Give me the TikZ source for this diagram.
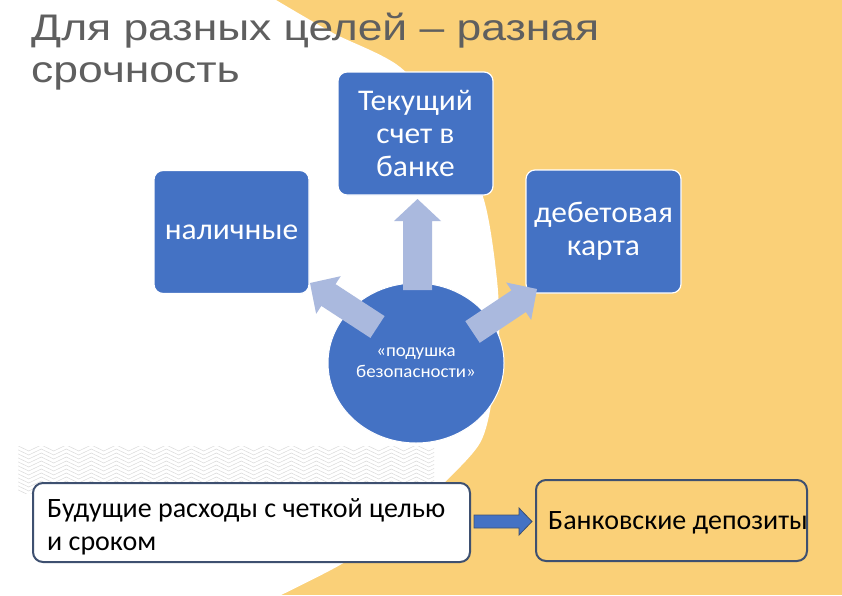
\documentclass[tikz,border=0pt]{standalone}
\usepackage{fontspec}
\usetikzlibrary{calc,shapes.geometric,decorations.pathmorphing}
\newfontfamily\titlefont[FakeStretch=1.2]{Liberation Sans}
\newfontfamily\boxfont[FakeStretch=1.05]{Carlito}
\newfontfamily\plainfont{Carlito}
\definecolor{bgyellow}{RGB}{250,208,120}
\definecolor{boxblue}{RGB}{68,114,196}
\definecolor{lightarrow}{RGB}{170,185,222}
\definecolor{outline}{RGB}{62,80,112}
\definecolor{titlegray}{RGB}{95,95,95}
\newcommand\blkarrow[7]{%
  \coordinate (#7hb) at ($(#3)!#6!(#2)$);
  \path[#1] ($(#2)!#4!90:(#3)$) -- ($(#7hb)!#4!90:(#3)$) -- ($(#7hb)!#5!90:(#3)$) -- (#3)
    -- ($(#7hb)!#5!-90:(#3)$) -- ($(#7hb)!#4!-90:(#3)$) -- ($(#2)!#4!-90:(#3)$) -- cycle;}
\begin{document}
\begin{tikzpicture}[x=1pt,y=-1pt,
  bluebox/.style={draw=white, line width=1.2pt, fill=boxblue, rounded corners=9pt,
    minimum width=155pt, minimum height=123pt, align=center, text=white, inner sep=2pt,
    font=\boxfont\fontsize{30}{33}\selectfont},
  outbox/.style={draw=outline, line width=2pt, rounded corners=10pt},
  bottext/.style={font=\plainfont\fontsize{28}{33}\selectfont, text=black, inner sep=0, align=left},
  wave/.style={draw=gray!30, line width=0.5pt, decorate,
    decoration={zigzag, segment length=25pt, amplitude=3pt}},
  lightarr/.style={fill=lightarrow},
  bluearr/.style={fill=boxblue, draw=outline, line width=0.8pt}]
\useasboundingbox (0,0) rectangle (842,595);
\fill[bgyellow] (0,0) rectangle (842,595);
\fill[white] (0,0) -- plot[smooth] coordinates {(276,0) (333,33) (400,67) (452,128) (484,200)
  (497,280) (499,340) (492,400) (480,443) (445,482) (393,530) (340,565) (277,597)}
  -- (0,597) -- cycle;
% wave texture
\begin{scope}
  \clip (18,446) rectangle (434,493);
  \foreach \yy in {448,452,...,492} \draw[wave] (10,\yy) -- (445,\yy);
\end{scope}
% title
\node[anchor=north west, inner sep=0, align=left, text=titlegray,
  font=\titlefont\fontsize{37}{42}\selectfont] (title) at (31,13)
  {Для разных целей – разная\\срочность};
% boxes
\node[bluebox] (tek) at (415.5,133.5) {Текущий\\счет в\\банке};
\node[bluebox] (nal) at (231.5,232) {наличные};
\node[bluebox] (deb) at (603.5,231.5) {дебетовая\\карта};
\node[ellipse, fill=boxblue, draw=white, line width=1pt, minimum width=176pt,
  minimum height=160pt, inner sep=0, align=center, text=white,
  font=\boxfont\fontsize{18}{21}\selectfont] (circ) at (416,363)
  {«подушка\\безопасности»};
% block arrows
\coordinate (upS) at (417.5,290);
\coordinate (upT) at (417.5,199);
\coordinate (lfS) at (377.5,327);
\coordinate (lfT) at (310,283);
\coordinate (rtS) at (472.5,332);
\coordinate (rtT) at (537,289);
\blkarrow{lightarr}{upS}{upT}{14.5pt}{23.5pt}{22pt}{up}
\blkarrow{lightarr}{lfS}{lfT}{13pt}{22.5pt}{22pt}{lf}
\blkarrow{lightarr}{rtS}{rtT}{13pt}{22.5pt}{22pt}{rt}
% bottom
\node[outbox, fill=white, minimum width=437pt, minimum height=79pt] (fut) at (251.5,522.5) {};
\node[bottext, anchor=west] (futtext) at ($(fut.west)+(15,4)$)
  {Будущие расходы с четкой целью\\и сроком};
\node[outbox, minimum width=271pt, minimum height=81pt] (dep) at (671.5,520.5) {};
\node[bottext, anchor=west] (deptext) at ($(dep.west)+(13,2)$) {Банковские депозиты};
\coordinate (bS) at ($(fut.east)+(3,-1)$);
\coordinate (bT) at ($(dep.west)+(-3,1)$);
\blkarrow{bluearr}{bS}{bT}{6.5pt}{13.5pt}{13pt}{bt}
\end{tikzpicture}
\end{document}
